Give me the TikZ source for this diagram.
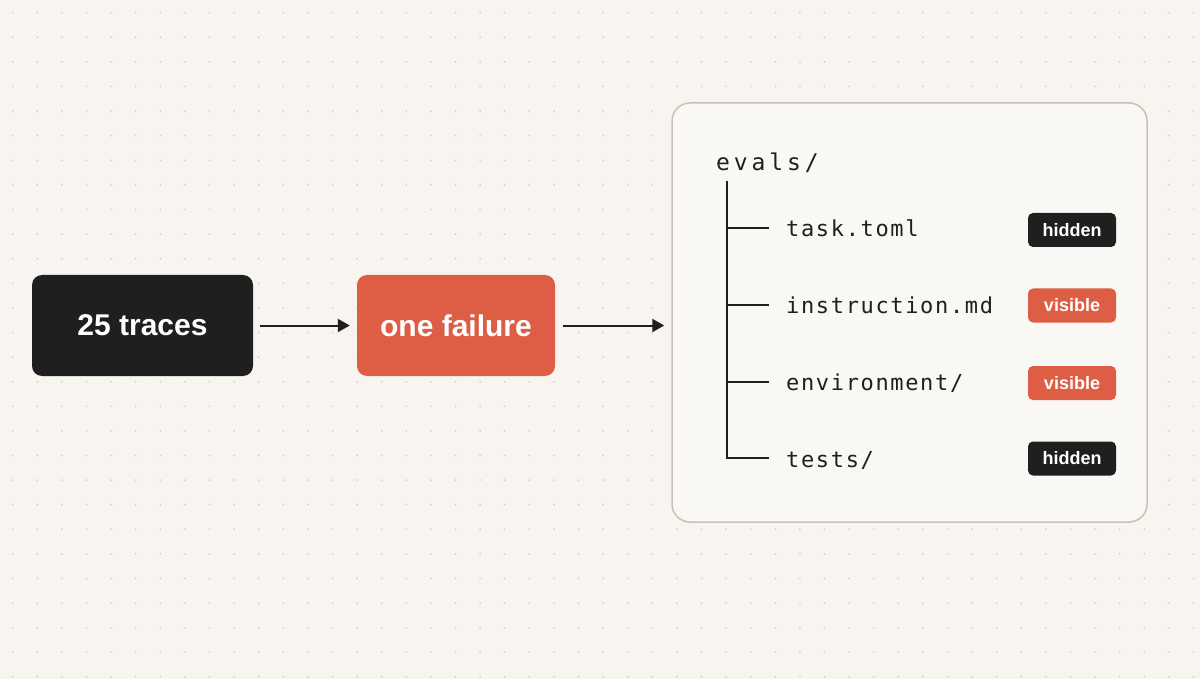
\documentclass[tikz,border=0pt]{standalone}
\usepackage{fontspec}
\setsansfont{Liberation Sans}
\newfontfamily\monof[LetterSpace=7.5]{DejaVu Sans Mono}
\newfontfamily\monoe[LetterSpace=17]{DejaVu Sans Mono}
\usetikzlibrary{arrows.meta}
\definecolor{bg}{HTML}{F8F5F0}
\definecolor{panelc}{HTML}{FAF8F4}
\definecolor{ink}{HTML}{1F1F1F}
\definecolor{coral}{HTML}{DE5E45}
\definecolor{rim}{HTML}{C9C1B5}
\definecolor{dotc}{HTML}{D4CEC5}
\tikzset{
  bigbox/.style={rounded corners=10pt, inner sep=0pt, text=white,
    font=\sffamily\bfseries\fontsize{30}{34}\selectfont,
    minimum height=101pt},
  badge/.style={rounded corners=5pt, inner sep=0pt, text=white,
    font=\sffamily\bfseries\fontsize{18}{22}\selectfont,
    minimum width=88pt, minimum height=34pt},
  arr/.style={draw=ink, line width=2pt, -{Triangle[length=12pt,width=13pt]}},
  tree/.style={draw=ink, line width=2pt},
  fname/.style={anchor=base west, inner sep=0pt, text=ink,
    font=\monof\fontsize{22}{26}\selectfont},
}
\begin{document}
\begin{tikzpicture}[x=1pt,y=-1pt]
\fill[bg] (0,0) rectangle (1200,679);
\useasboundingbox (0,0) rectangle (1200,679);
\foreach \i in {0,...,48}{
  \foreach \j in {0,...,27}{
    \fill[dotc] (12.7+24.6*\i, 12.7+24.6*\j) circle (1pt);
  }
}
% main boxes
\node[bigbox, fill=ink, minimum width=221pt] (traces) at (142.5,325.5) {25 traces};
\node[bigbox, fill=coral, minimum width=198pt] (fail) at (456,325.5) {one failure};
% panel
\node[draw=rim, fill=panelc, line width=1.5pt, rounded corners=18pt,
  minimum width=475pt, minimum height=419pt, inner sep=0pt] (panel) at (909.5,312.5) {};
\draw[arr] ([xshift=7pt]traces.east) -- ([xshift=-7pt]fail.west);
\draw[arr] ([xshift=8pt]fail.east) -- ([xshift=-7pt]fail.east -| panel.west);
% tree
\node[anchor=base west, inner sep=0pt, text=ink, font=\monoe\fontsize{23}{27}\selectfont] (root) at (716,170.5) {evals/};
\coordinate (top) at (727,181);
\coordinate (c1) at (769,228);
\coordinate (c2) at (769,304.5);
\coordinate (c3) at (769,381.5);
\coordinate (c4) at (769,458);
\draw[tree] (top) |- (c4);
\draw[tree] (top |- c1) -- (c1);
\draw[tree] (top |- c2) -- (c2);
\draw[tree] (top |- c3) -- (c3);
\node[fname] (f1) at (786,237) {task.toml};
\node[fname] (f2) at (786,313.5) {instruction.md};
\node[fname] (f3) at (786,390.5) {environment/};
\node[fname] (f4) at (786,467) {tests/};
\node[badge, fill=ink] (b1) at (1072,230) {hidden};
\node[badge, fill=coral] (b2) at (1072,305.5) {visible};
\node[badge, fill=coral] (b3) at (1072,383) {visible};
\node[badge, fill=ink] (b4) at (1072,458.5) {hidden};
\end{tikzpicture}
\end{document}
